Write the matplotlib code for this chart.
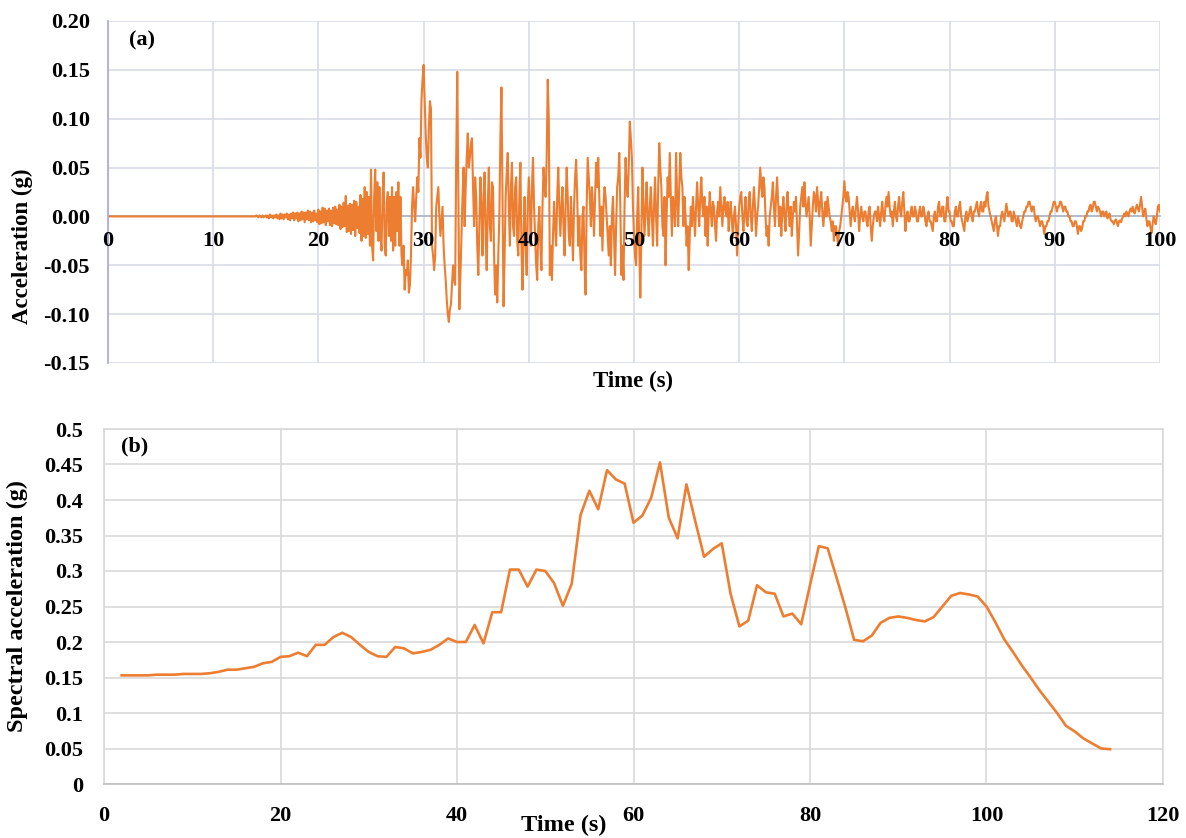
import numpy as np
import matplotlib
matplotlib.use("Agg")
import matplotlib.pyplot as plt
from matplotlib.transforms import offset_copy

plt.rcParams["font.family"] = ["Liberation Serif", "DejaVu Serif"]
plt.rcParams["font.weight"] = "bold"

# (a) ground acceleration record, one value every 0.1 s
acc_step = 0.1
acc_quiet = [0.0] * 140  # 0 - 13.9 s, flat
acc_active = [
    0, .001, 0, -.001, .001, 0, -.001, .001, -.001, 0,                          # 14
    .001, -.001, .001, -.002, .002, -.001, .001, -.002, .001, -.001,            # 15
    .002, -.002, .001, -.003, .003, -.002, .002, -.003, .002, -.001,            # 16
    .003, -.003, .002, -.004, .003, -.002, .004, -.004, .003, -.002,            # 17
    .004, -.005, .003, -.004, .005, -.003, .004, -.006, .004, -.003,            # 18
    .006, -.004, .005, -.006, .004, -.005, .006, -.004, .003, -.006,            # 19
    .007, -.008, .005, -.007, .009, -.006, .008, -.009, .006, -.005,            # 20
    .008, -.009, .006, -.010, .009, -.007, .010, -.008, .007, -.009,            # 21
    .012, -.013, .010, -.011, .014, -.010, .021, -.016, .011, -.015,            # 22
    .013, -.018, .012, -.014, .016, -.020, .015, -.012, .010, -.017,            # 23
    .022, -.025, .018, -.020, .030, -.022, .025, -.018, .020, -.030,            # 24
    .048, -.030, -.045, .020, .048, -.015, .035, -.025, .030, -.020,            # 25
    -.035, .020, .045, -.030, -.040, .015, .025, -.020, .020, -.025,            # 26
    .030, -.035, .020, -.030, .025, -.015, .035, -.030, .020, -.040,            # 27
    -.050, -.030, -.075, -.055, -.060, -.045, -.078, -.070, -.040, .010,        # 28
    .030, .010, -.005, .020, .040, .025, .080, .060, .120, .140,                # 29
    .155, .120, .085, .060, .050, .090, .118, .110, -.030, -.040,               # 30
    -.055, -.040, .010, .020, .030, .000, -.020, -.005, .010, -.030,            # 31
    -.050, -.065, -.085, -.100, -.108, -.095, -.090, -.070, -.050, -.065,       # 32
    -.070, .060, .148, .020, -.095, -.060, -.020, .020, .050, -.010,            # 33
    .030, .060, .085, .050, .060, .075, .080, .030, -.010, .040,                # 34
    .020, -.030, -.060, -.010, .040, .010, -.040, .020, .045, -.020,            # 35
    -.055, .010, .050, -.010, -.025, .035, .030, -.040, -.080, -.050,           # 36
    -.088, -.040, .000, .080, .132, .020, -.092, -.040, .020, .045,             # 37
    .065, .010, -.030, .030, .055, -.010, -.020, .030, .040, -.025,             # 38
    -.040, .020, .055, -.030, -.075, -.020, .020, -.030, -.060, .010,           # 39
    .040, .010, -.030, .030, .060, .010, -.020, -.050, -.065, -.010,            # 40
    .010, -.030, -.055, .010, .050, .030, .020, .060, .140, .100,               # 41
    -.060, -.030, -.065, -.020, .015, -.010, -.030, .020, .050, .010,           # 42
    -.020, .010, .030, -.010, -.040, .010, .050, .020, -.020, -.030,            # 43
    .020, -.010, -.045, .010, .040, .058, .020, -.030, .000, -.040,             # 44
    -.055, .000, .010, -.050, -.080, .010, .060, .040, .020, -.010,             # 45
    .030, .010, -.020, .020, .055, .030, .060, .020, -.020, .010,               # 46
    -.035, .010, .030, .020, .000, -.020, -.040, -.010, -.050, .000,            # 47
    .020, -.020, -.060, -.010, .030, .040, .065, .010, -.060, -.030,            # 48
    -.065, .010, .060, .030, .020, .050, .097, .080, .060, .010,                # 49
    -.020, -.040, -.050, .000, .030, -.030, -.083, -.020, .050, .010,           # 50
    -.020, .010, .035, .000, -.020, .010, .030, .000, -.030, .010,              # 51
    .040, .000, -.030, .030, .075, .050, .030, -.010, -.020, .020,              # 52
    -.050, .000, .040, .020, .065, .020, -.020, .020, .010, -.010,              # 53
    .065, .020, -.010, .030, .065, .040, .030, -.010, .020, .000,               # 54
    -.030, -.010, -.055, -.020, .010, -.010, .020, .000, -.020, .010,           # 55
    .035, .010, -.010, .020, .040, .010, .000, .020, -.020, .010,               # 56
    -.030, .000, .025, .005, -.010, .015, .010, -.010, -.025, .005,             # 57
    .015, .000, .030, .010, -.010, .010, .020, .005, .000, .015,                # 58
    -.015, .005, .015, -.005, -.020, .000, .010, -.010, -.040, -.010,           # 59
    .010, .020, .025, .000, -.015, .005, .020, -.005, -.010, .015,              # 60
    .025, .000, -.015, .010, .030, .010, -.020, .000, .010, .030,               # 61
    .050, .030, .020, .040, .030, .000, -.020, -.010, -.030, .000,              # 62
    .010, .020, .035, .010, -.010, .020, .040, .015, -.010, .010,               # 63
    -.020, .005, .020, .000, -.015, .010, .025, .005, -.010, .010,              # 64
    -.020, .000, .015, .005, .020, -.010, -.040, -.015, .010, .020,             # 65
    .030, .010, .035, .015, .000, .010, .020, .000, -.030, -.010,               # 66
    .010, .025, .020, .005, .030, .015, .000, .015, .025, .005,                 # 67
    -.010, .005, .015, .000, .020, .010, .000, -.005, -.015, -.005,             # 68
    -.025, -.010, -.010, -.020, -.030, -.015, -.010, .000, .010, .020,          # 69
    .036, .020, .015, .025, .020, .005, -.010, .005, .010, .000,                # 70
    -.005, .010, .020, .005, -.015, .000, .010, .000, -.005, .005,              # 71
    .005, -.005, -.010, .005, .010, -.010, -.025, -.010, .000, .005,            # 72
    .005, -.005, .010, .000, -.010, .005, .015, .000, -.005, .010,              # 73
    .020, .010, .025, .010, .000, .005, -.010, .005, .015, .000,                # 74
    -.005, .010, .020, .005, .000, .015, .025, .005, -.015, .000,               # 75
    .005, -.005, -.005, .005, .010, .000, .000, .010, .005, -.005,              # 76
    -.005, .005, .010, .000, .000, .010, .005, -.005, -.010, .000,              # 77
    .005, -.005, -.005, -.010, -.015, .000, .005, -.005, -.005, .010,           # 78
    .015, .000, .000, .010, .010, -.005, -.005, .010, .020, .005,               # 79
    .005, -.005, -.005, -.010, -.010, .005, .010, .000, .000, .010,             # 80
    .015, .000, -.005, -.010, -.015, .000, .005, -.005, .000, .005,             # 81
    .010, .000, -.005, .005, .005, .010, .015, .005, .000, .010,                # 82
    .015, .005, .005, .015, .010, .020, .025, .010, .005, .000,                 # 83
    -.005, -.010, -.015, -.005, .000, -.010, -.020, -.010, -.010, .000,         # 84
    .005, .000, -.005, .005, .013, .005, .000, .005, .005, -.005,               # 85
    -.005, .005, .000, -.005, -.010, .000, -.005, -.010, -.012, -.005,          # 86
    .000, .005, .005, .010, .010, .015, .015, .010, .005, .010,                 # 87
    .010, .000, -.005, .000, .000, -.005, -.010, -.005, -.005, -.010,           # 88
    -.018, -.010, -.010, -.005, -.005, .000, .005, .005, .010, .015,            # 89
    .015, .010, .005, .010, .010, .015, .015, .010, .005, .010,                 # 90
    .010, .005, .005, .000, .000, -.005, -.005, -.010, -.010, -.005,            # 91
    -.005, -.010, -.018, -.010, -.010, -.015, -.012, -.005, -.005, .000,        # 92
    .000, .005, .005, .010, .012, .005, .008, .015, .015, .010,                 # 93
    .005, .010, .008, .005, .000, .005, .005, .000, .003, .005,                 # 94
    -.002, .000, .003, -.003, -.005, -.005, -.008, -.005, -.003, -.006,         # 95
    -.010, -.005, -.004, -.006, -.002, .000, .003, .000, .005, .003,            # 96
    .000, .005, .008, .005, .010, .005, .003, .008, .012, .008,                 # 97
    .005, .012, .020, .010, .000, .005, .008, -.002, -.010, -.005,              # 98
    -.005, -.012, -.017, -.008, .000, -.005, -.008, .000, .010, .012,           # 99
    .005,                                                                       # 100
]
acc_values = acc_quiet + acc_active
acc_time = np.arange(len(acc_values)) * acc_step

# (b) spectral acceleration
sa_time = list(range(2, 115))
sa_values = [
    0.153, 0.153, 0.153, 0.153, 0.154, 0.154, 0.154, 0.155,        # 2-9
    0.155, 0.155, 0.156, 0.158, 0.161, 0.161, 0.163, 0.165,        # 10-17
    0.170, 0.172, 0.179, 0.180, 0.185, 0.180, 0.196, 0.196,        # 18-25
    0.207, 0.213, 0.207, 0.196, 0.186, 0.180, 0.179, 0.193,        # 26-33
    0.191, 0.184, 0.186, 0.189, 0.196, 0.205, 0.200, 0.200,        # 34-41
    0.224, 0.198, 0.242, 0.242, 0.302, 0.302, 0.278, 0.302,        # 42-49
    0.300, 0.283, 0.251, 0.282, 0.379, 0.413, 0.387, 0.442,        # 50-57
    0.429, 0.423, 0.368, 0.378, 0.403, 0.453, 0.375, 0.346,        # 58-65
    0.422, 0.370, 0.320, 0.331, 0.339, 0.268, 0.222, 0.230,        # 66-73
    0.280, 0.270, 0.268, 0.236, 0.240, 0.225, 0.280, 0.335,        # 74-81
    0.332, 0.291, 0.249, 0.203, 0.201, 0.209, 0.227, 0.234,        # 82-89
    0.236, 0.234, 0.231, 0.229, 0.235, 0.250, 0.265, 0.269,        # 90-97
    0.267, 0.264, 0.250, 0.228, 0.204, 0.186, 0.167, 0.150,        # 98-105
    0.132, 0.116, 0.100, 0.082, 0.074, 0.064, 0.057, 0.050,        # 106-113
    0.049,                                                         # 114
]

acc_yticks = [-0.15, -0.10, -0.05, 0.00, 0.05, 0.10, 0.15, 0.20]
acc_xticks = list(range(0, 101, 10))
sa_yticks = [0, 0.05, 0.1, 0.15, 0.2, 0.25, 0.3, 0.35, 0.4, 0.45, 0.5]
sa_xticks = list(range(0, 121, 20))

orange = "#ED7D31"
W, H = 1186, 838
fig = plt.figure(figsize=(W / 100, H / 100), dpi=100)

# ---- (a) ----
ax1 = fig.add_axes([108 / W, 1 - 363 / H, (1160 - 108) / W, (363 - 21) / H])
ax1.plot(acc_time, acc_values, color=orange, lw=1.5, zorder=2)
ax1.set_xlim(0, 100)
ax1.set_ylim(-0.15, 0.20)
ax1.set_xticks(acc_xticks)
ax1.set_xticklabels([])
ax1.set_yticks(acc_yticks)
ax1.set_yticklabels(["%.2f" % v for v in acc_yticks])
ax1.grid(color="#d9dce6", lw=1.2)
ax1.set_axisbelow(True)
for s in ("top", "right"):
    ax1.spines[s].set_visible(False)
ax1.spines["bottom"].set_position(("data", 0))
ax1.spines["bottom"].set_color("#a9b5c8")
ax1.spines["bottom"].set_linewidth(1.2)
ax1.spines["bottom"].set_zorder(1)
ax1.spines["left"].set_color("#a7a7e0")
ax1.spines["left"].set_linewidth(1.2)
ax1.tick_params(axis="both", length=0, labelsize=16)
ax1.tick_params(axis="y", pad=13)
# x tick labels sit next to the zero line, drawn above the trace
below_zero = offset_copy(ax1.transData, fig=fig, y=-15, units="dots")
for x in acc_xticks:
    ax1.text(x, 0, str(x), transform=below_zero, fontsize=16, ha="center",
             va="top", zorder=5, clip_on=False)
ax1.text(0.032, 0.944, "(a)", transform=ax1.transAxes, fontsize=16,
         ha="center", va="center")
fig.text(633 / W, 1 - 381 / H, "Time (s)", fontsize=16.5, ha="center", va="center")
fig.text(22 / W, 1 - 246 / H, "Acceleration (g)", fontsize=16.5, rotation=90,
         ha="center", va="center")

# ---- (b) ----
ax2 = fig.add_axes([104 / W, 1 - 784 / H, (1163 - 104) / W, (784 - 429) / H])
ax2.plot(sa_time, sa_values, color=orange, lw=1.9, zorder=3)
ax2.set_xlim(0, 120)
ax2.set_ylim(0, 0.5)
ax2.set_xticks(sa_xticks)
ax2.set_yticks(sa_yticks)
ax2.set_yticklabels(["%g" % v for v in sa_yticks])
ax2.grid(color="#d9d9d9", lw=1.2)
ax2.set_axisbelow(True)
for s in ax2.spines.values():
    s.set_color("#d9d9d9")
    s.set_linewidth(1.2)
ax2.spines["bottom"].set_color("#bfbfbf")
ax2.tick_params(axis="both", length=0, labelsize=16)
ax2.tick_params(axis="x", pad=16)
ax2.tick_params(axis="y", pad=15)
ax2.text(0.029, 0.952, "(b)", transform=ax2.transAxes, fontsize=16,
         ha="center", va="center")
fig.text(564 / W, 1 - 825 / H, "Time (s)", fontsize=17.5, ha="center", va="center")
fig.text(17 / W, 1 - 606 / H, "Spectral acceleration (g)", fontsize=17.5,
         rotation=90, ha="center", va="center")

fig.savefig("out.png", dpi=100)
